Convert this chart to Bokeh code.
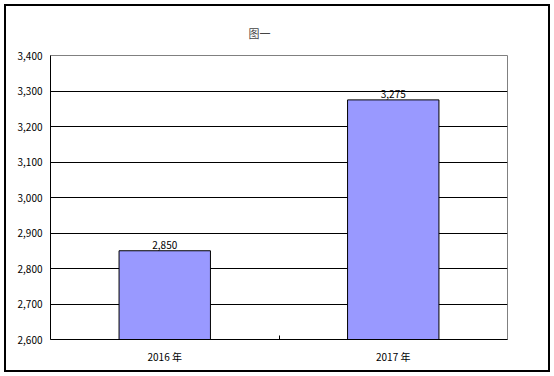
from bokeh.plotting import figure
from bokeh.models import Range1d, FixedTicker, LinearAxis, ColumnDataSource, NumeralTickFormatter
from bokeh.embed import file_html
from bokeh.resources import INLINE

categories = ["2016 年", "2017 年"]
values = [2850, 3275]
value_labels = ["2,850", "3,275"]
y_ticks = [2600, 2700, 2800, 2900, 3000, 3100, 3200, 3300, 3400]

FONT = "Noto Sans CJK SC"
Y0, Y1 = 2600, 3400

xs = [i + 0.5 for i in range(len(categories))]
src = ColumnDataSource(dict(x=xs, top=values, label=value_labels))

p = figure(width=554, height=376, output_backend="svg", toolbar_location=None,
           x_range=Range1d(0, len(categories)), y_range=Range1d(Y0, Y1),
           min_border_left=50, min_border_right=47, min_border_top=55, min_border_bottom=37)
p.border_fill_color = None
p.background_fill_color = "white"
p.styles = {"outline": "2px solid black", "outline-offset": "-6px"}

p.title.text = "图一"
p.title.align = "left"
p.title.offset = 198
p.title.text_font = FONT
p.title.text_font_size = "11px"
p.title.text_font_style = "normal"
p.title.standoff = 30

p.outline_line_color = "#808080"
p.outline_line_width = 1

p.vbar(x="x", top="top", bottom=Y0, width=0.4, source=src,
       fill_color="#9999FF", line_color="black", line_width=1)
p.text(x="x", y="top", text="label", source=src, text_align="center",
       text_baseline="bottom", y_offset=-2, text_font_size="10px",
       text_font={"value": FONT}, text_color="black")

# y axis
p.yaxis.ticker = FixedTicker(ticks=y_ticks)
p.yaxis.formatter = NumeralTickFormatter(format="0,0")
p.yaxis.major_tick_line_color = None
p.yaxis.minor_tick_line_color = None
p.yaxis.axis_line_color = "black"
p.yaxis.major_label_text_font = FONT
p.yaxis.major_label_text_font_size = "10px"
p.yaxis.major_label_standoff = 2
p.yaxis.major_label_text_color = "black"

p.ygrid.ticker = FixedTicker(ticks=y_ticks[1:-1])
p.ygrid.grid_line_color = "black"
p.ygrid.grid_line_width = 1
p.xgrid.grid_line_color = None

# x axis: boundary tick
p.xaxis.ticker = FixedTicker(ticks=[1])
p.xaxis.major_label_overrides = {1: ""}
p.xaxis.major_tick_in = 4
p.xaxis.major_tick_out = 0
p.xaxis.minor_tick_line_color = None
p.xaxis.axis_line_color = "black"
p.xaxis.major_label_text_font_size = "1px"
p.xaxis.major_label_standoff = 0

# x axis: category labels
cat_axis = LinearAxis(ticker=FixedTicker(ticks=xs),
                      major_label_overrides={x: c for x, c in zip(xs, categories)},
                      axis_line_color=None, major_tick_line_color=None,
                      minor_tick_line_color=None, major_label_standoff=3,
                      major_label_text_font=FONT, major_label_text_font_size="10px",
                      major_label_text_color="black")
p.add_layout(cat_axis, "below")

open("out.html", "w").write(file_html(p, INLINE))
